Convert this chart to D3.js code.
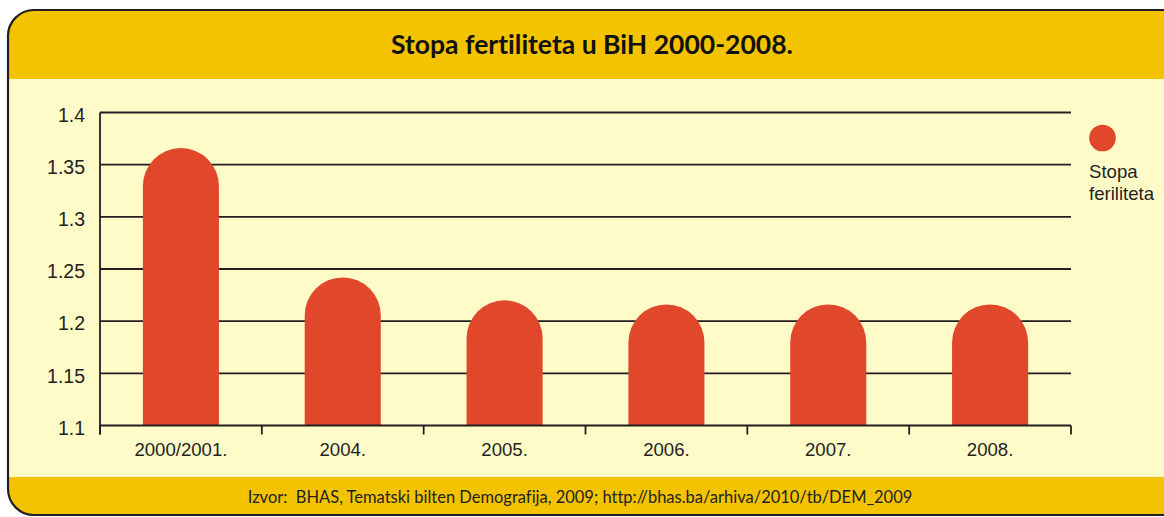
<!DOCTYPE html>
<html><head><meta charset="utf-8">
<script src="https://cdn.jsdelivr.net/npm/d3@7"></script>
<style>
html,body{margin:0;padding:0;background:#fff;}
svg{display:block;}
text{font-variant-ligatures:none;font-feature-settings:"liga" 0,"clig" 0;white-space:pre;}
</style></head>
<body>
<svg id="c" width="1164" height="517"></svg>
<script>
const categories = ["2000/2001.", "2004.", "2005.", "2006.", "2007.", "2008."];
const values = [1.366, 1.242, 1.220, 1.216, 1.216, 1.216];
const yTicks = [1.1, 1.15, 1.2, 1.25, 1.3, 1.35, 1.4];
const title = "Stopa fertiliteta u BiH 2000-2008.";
const legendLabel = ["Stopa", "feriliteta"];
const source = "Izvor:  BHAS, Tematski bilten Demografija, 2009; http://bhas.ba/arhiva/2010/tb/DEM_2009";

const svg = d3.select("#c");
const ink = "#231f20", yellow = "#f4c300", cream = "#fffbc9", red = "#e0472b";

// frame
const fx = 8, fy = 10, fw = 1190, fh = 505, rad = 26;
const clip = svg.append("defs").append("clipPath").attr("id","fr");
clip.append("rect").attr("x",fx).attr("y",fy).attr("width",fw).attr("height",fh).attr("rx",rad);
const g0 = svg.append("g").attr("clip-path","url(#fr)");
g0.append("rect").attr("x",fx).attr("y",fy).attr("width",fw).attr("height",fh).attr("fill",cream);
g0.append("rect").attr("x",fx).attr("y",fy).attr("width",fw).attr("height",79-fy).attr("fill",yellow);
g0.append("rect").attr("x",fx).attr("y",477).attr("width",fw).attr("height",fh).attr("fill",yellow);
svg.append("rect").attr("x",fx).attr("y",fy).attr("width",fw).attr("height",fh).attr("rx",rad)
  .attr("fill","none").attr("stroke",ink).attr("stroke-width",2.2);

function fit(sel, target){
  const w = sel.node().getComputedTextLength();
  const fs = parseFloat(sel.attr("font-size"));
  sel.attr("font-size", fs*target/w);
}

const t = svg.append("text").attr("x",592).attr("y",54).attr("text-anchor","middle")
  .attr("font-family","Lato, 'Open Sans', sans-serif").attr("font-weight","bold")
  .attr("font-size",24).attr("fill","#111").text(title);
fit(t, 402);

const s = svg.append("text").attr("x",580).attr("y",503).attr("text-anchor","middle")
  .attr("font-family","Lato, 'Open Sans', sans-serif")
  .attr("font-size",14).attr("fill",ink).text(source);
fit(s, 665);

// scales
const x = d3.scaleBand().domain(categories).range([100,1071]).paddingInner(0.53).paddingOuter(0.265);
const y = d3.scaleLinear().domain([1.1,1.4]).range([425.5,112.5]);
const font = "'Liberation Sans', Arial, sans-serif";

// gridlines
svg.append("g").selectAll("line").data(yTicks.slice(1)).join("line")
  .attr("x1",100).attr("x2",1071).attr("y1",d=>y(d)).attr("y2",d=>y(d))
  .attr("stroke",ink).attr("stroke-width",1.8);

// bars with rounded tops
const r = x.bandwidth()/2;
svg.append("g").selectAll("path").data(values).join("path")
  .attr("fill",red)
  .attr("d",(v,i)=>{
    const x0 = x(categories[i]), x1 = x0 + x.bandwidth();
    const yt = y(v), yb = y(1.1);
    return `M${x0},${yb}L${x0},${yt+r}A${r},${r} 0 0 1 ${x1},${yt+r}L${x1},${yb}Z`;
  });

// y axis
const yAxis = svg.append("g").attr("transform","translate(100,0)")
  .call(d3.axisLeft(y).tickValues(yTicks).tickFormat(d3.format("")).tickSize(0).tickPadding(15));
yAxis.select(".domain").attr("stroke",ink).attr("stroke-width",1.8).attr("d",`M0,${y(1.4)}V${y(1.1)+9}`);
yAxis.selectAll("text").attr("font-family",font).attr("font-size",19.5).attr("fill",ink)
  .attr("dy","0.35em").attr("y",2);

// x axis
const step = x.step();
const start = x.range()[0];
const xAxis = svg.append("g").attr("transform",`translate(0,${y(1.1)})`)
  .call(d3.axisBottom(x).tickSize(0).tickPadding(17));
xAxis.select(".domain").attr("stroke",ink).attr("stroke-width",1.8).attr("d",`M100,0H1071`);
xAxis.selectAll("text").attr("font-family",font).attr("font-size",18.6).attr("fill",ink);
xAxis.append("g").selectAll("line").data(d3.range(categories.length+1)).join("line")
  .attr("x1",i=>start+i*step).attr("x2",i=>start+i*step).attr("y1",0).attr("y2",9)
  .attr("stroke",ink).attr("stroke-width",1.8);

// legend
svg.append("circle").attr("cx",1102.5).attr("cy",138).attr("r",13.3).attr("fill",red);
svg.append("text").attr("font-family",font).attr("font-size",18.6).attr("fill",ink)
  .selectAll("tspan").data(legendLabel).join("tspan")
  .attr("x",1089).attr("y",(d,i)=>178+i*21.5).text(d=>d);
</script>
</body></html>
